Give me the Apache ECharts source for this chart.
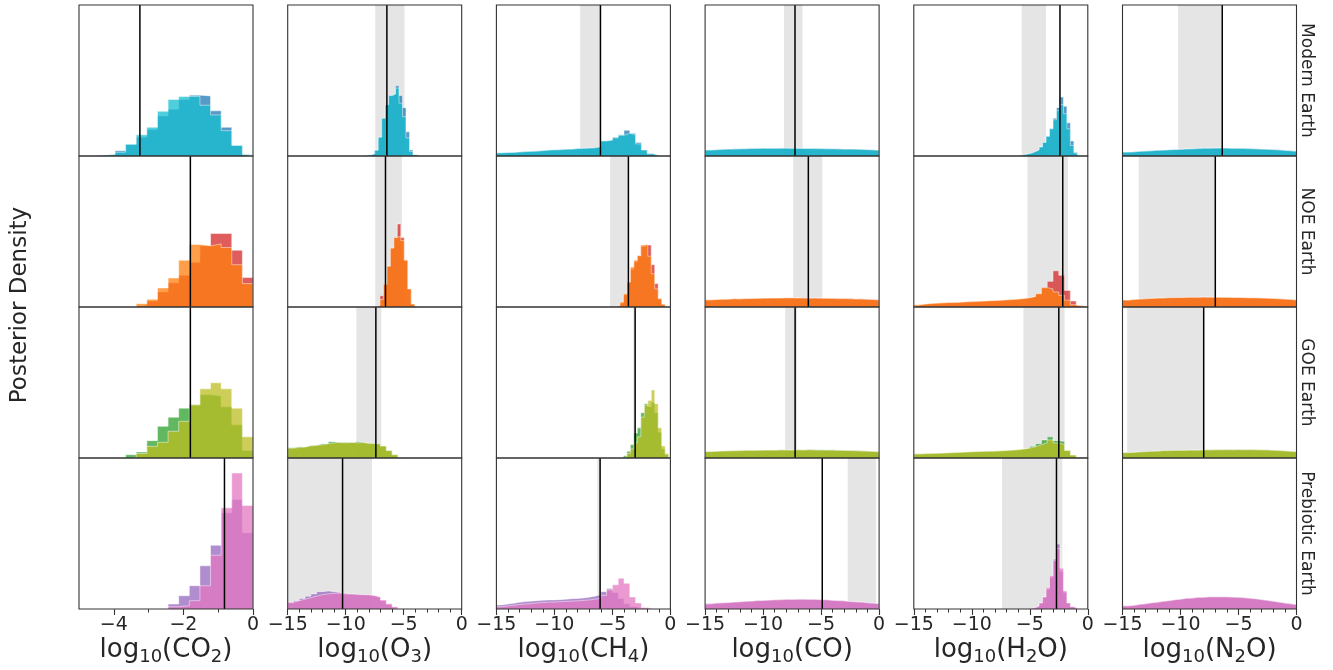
<!DOCTYPE html>
<html><head><meta charset="utf-8">
<script src="https://cdn.jsdelivr.net/npm/echarts@6/dist/echarts.min.js"></script>
<style>html,body{margin:0;padding:0;background:#fff}#c{width:1333px;height:670px}</style>
</head><body><div id="c"></div><script>
const FONT = 'DejaVu Sans';
const rowNames = ['Modern Earth', 'NOE Earth', 'GOE Earth', 'Prebiotic Earth'];
const xTitles = ['{m|log}{s|10}{m|(CO}{s|2}{m|)}', '{m|log}{s|10}{m|(O}{s|3}{m|)}', '{m|log}{s|10}{m|(CH}{s|4}{m|)}',
  '{m|log}{s|10}{m|(CO)}', '{m|log}{s|10}{m|(H}{s|2}{m|O)}', '{m|log}{s|10}{m|(N}{s|2}{m|O)}'];
const xMins = [-5, -15, -15, -15, -15, -15];
const co2Ticks = [-4, -2, 0];
const co2MinorTicks = [-3, -1];
const rowColors = [['#1f77b4', '#17becf'], ['#d62728', '#ff7f0e'], ['#2ca02c', '#bcbd22'], ['#9467bd', '#e377c2']];

// true values (black lines), rows x columns
const truthValues = [
  [-3.25, -6.45, -6.03, -7.25, -2.4, -6.4],
  [-1.8, -6.57, -3.62, -6.1, -2.16, -7.0],
  [-1.8, -7.4, -3.04, -7.24, -2.5, -8.0],
  [-0.82, -10.27, -6.06, -4.9, -2.7, null]
];
// grey bands [lo, hi]
const bandRanges = [
  [null, [-7.45, -4.93], [-7.78, -6.05], [-8.2, -6.6], [-5.7, -3.6], [-10.2, -6.4]],
  [null, [-7.45, -5.16], [-5.2, -3.64], [-7.4, -4.9], [-5.2, -1.7], [-13.6, -7.0]],
  [null, [-9.08, -6.93], [-3.2, -3.04], [-8.1, -7.07], [-5.55, -2.0], [-14.6, -8.0]],
  [null, [-15, -7.74], [-6.3, -6.06], [-2.7, -0.26], [-7.4, -2.2], null]
];

// ---- histograms: x0 = first bin edge, w = bin width, h = heights (% of panel height)
// Modern Earth
const mod_co2_a = {x0: -4.575, w: 0.305, h: [0.5, 1, 3.5, 7.7, 12.5, 17.5, 26.5, 31, 37.4, 40.3, 39.8, 29.9, 19, 7, 1]};
const mod_co2_b = {x0: -4.575, w: 0.305, h: [0.5, 1, 2.5, 7.7, 14, 19, 29.6, 37.4, 39.4, 39.5, 33.6, 27.2, 16.8, 7, 1]};
const mod_o3_a = {x0: -8.4, w: 0.3, h: [0.3, 0.7, 1.5, 3.8, 12.5, 25, 34, 40, 41, 46.5, 40, 32, 16, 4, 0.8, 0.2]};
const mod_o3_b = {x0: -8.4, w: 0.3, h: [0.3, 0.7, 1.5, 3.8, 12.5, 25, 34, 40, 41, 45, 35, 26, 12, 3, 0.7, 0.2]};
const mod_ch4_a = {x0: -15, w: 0.5, h: [2, 2.2, 2.4, 2.6, 2.8, 3, 3.3, 3.6, 3.8, 4, 4.2, 4.4, 4.6, 4.8, 5, 5.2, 5.5, 6, 10, 10.4, 12.5, 14, 17, 15, 9, 4, 1.5, 0.4]};
const mod_ch4_b = {x0: -15, w: 0.5, h: [2.1, 2.3, 2.3, 2.7, 2.9, 3.1, 3.2, 3.5, 3.9, 4.1, 4.1, 4.5, 4.5, 4.9, 5.1, 5.3, 5.4, 6.2, 10, 10.5, 12, 13.7, 15, 14, 8, 4, 1.5, 0.4]};
const mod_co_a = {x0: -15, w: 0.5, h: [3.8, 4.2, 4.5, 4.4, 4.8, 4.6, 5, 4.9, 5.1, 5, 5.2, 5, 5.3, 5.1, 5, 5.2, 5, 4.9, 5.1, 4.8, 4.9, 4.7, 4.8, 4.6, 4.5, 4.6, 4.4, 4.2, 4.1, 3.8]};
const mod_co_b = {x0: -15, w: 0.5, h: [4, 4.1, 4.3, 4.6, 4.5, 4.8, 4.7, 5, 4.9, 5.2, 5, 5.1, 5, 5.2, 5.1, 5, 4.9, 5, 4.8, 4.9, 4.7, 4.8, 4.6, 4.5, 4.6, 4.4, 4.3, 4.2, 4, 3.8]};
const mod_h2o_a = {x0: -6.0, w: 0.3, h: [0.5, 1, 1.5, 2, 3, 4, 6, 9, 13, 18, 25, 32, 39, 33, 22, 10, 2.5, 0.5]};
const mod_h2o_b = {x0: -6.0, w: 0.3, h: [0.5, 1, 1.5, 2, 3, 4, 6, 9, 13, 18, 24, 30, 34, 28, 18, 7, 2, 0.5]};
const mod_n2o_a = {x0: -15, w: 0.5, h: [2.5, 2.8, 3, 3.2, 3.5, 3.7, 3.9, 4, 4.2, 4.4, 4.6, 4.8, 5, 5.1, 5.2, 5.3, 5.2, 5.3, 5.1, 5, 5.1, 4.9, 4.8, 4.6, 4.5, 4.3, 4.1, 3.8, 3.5, 3.2]};
const mod_n2o_b = {x0: -15, w: 0.5, h: [2.6, 2.7, 3.1, 3.3, 3.4, 3.8, 3.8, 4.1, 4.3, 4.3, 4.7, 4.7, 4.9, 5.2, 5.1, 5.2, 5.3, 5.2, 5, 5.1, 4.9, 4.8, 4.7, 4.5, 4.4, 4.2, 4, 3.7, 3.4, 3.1]};
// NOE Earth
const noe_co2_a = {x0: -4.575, w: 0.305, h: [0, 0, 0, 0, 1.1, 4, 10, 16, 21, 29.6, 40.5, 48.7, 48.7, 37.6, 19.5]};
const noe_co2_b = {x0: -4.575, w: 0.305, h: [0, 0, 0, 0, 2.2, 5.1, 12.6, 19.2, 31, 41.4, 40.5, 41.8, 39.4, 28, 15.5]};
const noe_o3_a = {x0: -7.35, w: 0.3, h: [1, 7.5, 15, 27, 39, 46, 55, 46, 31, 12, 2, 0.5]};
const noe_o3_b = {x0: -7.35, w: 0.3, h: [1, 5, 15, 27, 39, 46, 47, 44, 31, 12, 2, 0.5]};
const noe_ch4_a = {x0: -4.65, w: 0.3, h: [0.5, 2.5, 8, 16, 25, 30, 34, 40, 41, 41, 28, 15.5, 5.5, 1.8]};
const noe_ch4_b = {x0: -4.65, w: 0.3, h: [1, 3.3, 8.8, 16.6, 26.5, 31, 34, 41, 41.5, 33.6, 22, 12, 5.5, 1.8]};
const noe_co_a = {x0: -15, w: 0.5, h: [4.5, 4.8, 5, 5.2, 5.4, 5.2, 5.6, 5.5, 5.8, 5.6, 6, 5.8, 6, 6.2, 6, 5.9, 6.1, 6, 5.8, 6, 5.7, 5.8, 5.6, 5.5, 5.6, 5.3, 5.4, 5.1, 5, 4.8]};
const noe_co_b = {x0: -15, w: 0.5, h: [4.8, 5, 5.2, 5.1, 5.5, 5.4, 5.5, 5.7, 5.6, 5.9, 5.8, 6, 5.9, 6, 6.1, 6, 5.9, 5.8, 6, 5.7, 5.8, 5.6, 5.5, 5.6, 5.4, 5.3, 5.2, 5.1, 4.9, 4.7]};
const noe_h2o_a = {x0: -15, w: 0.5, h: [1.2, 1.8, 2.2, 2.4, 2.6, 2.8, 2.9, 3, 3.3, 3.4, 3.6, 3.8, 4, 4.1, 4.3, 4.6, 4.8, 5, 5.4, 6, 6.8, 8.5, 13, 17, 24, 21, 11, 4, 1, 0]};
const noe_h2o_b = {x0: -15, w: 0.5, h: [1.5, 2, 2.4, 2.6, 2.8, 3, 3, 3.2, 3.5, 3.6, 3.8, 4, 4.2, 4.3, 4.5, 4.8, 5, 5.3, 5.7, 6.2, 7, 9, 12.8, 12, 10, 7.7, 4.5, 1.5, 0.3, 0]};
const noe_n2o_a = {x0: -15, w: 0.5, h: [4.5, 5, 5.2, 5.5, 5.6, 5.8, 6, 6.1, 6.3, 6.2, 6.4, 6.5, 6.3, 6.6, 6.4, 6.5, 6.3, 6.4, 6.2, 6.3, 6.1, 6, 6.1, 5.9, 5.8, 5.7, 5.5, 5.3, 5, 4.7]};
const noe_n2o_b = {x0: -15, w: 0.5, h: [4.6, 4.9, 5.3, 5.4, 5.7, 5.9, 5.9, 6.2, 6.2, 6.3, 6.3, 6.4, 6.4, 6.5, 6.5, 6.4, 6.4, 6.3, 6.3, 6.2, 6.2, 6.1, 6, 5.9, 5.8, 5.6, 5.4, 5.2, 5, 4.6]};
// GOE Earth
const goe_co2_a = {x0: -4.575, w: 0.305, h: [0, 0, 0, 2.2, 4, 11.5, 21, 27, 33, 35.2, 42, 41, 34, 22, 5]};
const goe_co2_b = {x0: -4.575, w: 0.305, h: [0, 0, 0, 0, 3, 7.7, 10.4, 17.7, 24.3, 35.2, 45.8, 49.8, 45.8, 33, 14]};
const goe_o3_a = {x0: -15, w: 0.5, h: [6.8, 7.5, 7.2, 8.3, 8.5, 9.5, 9.3, 10.8, 10.2, 10.5, 10, 10.8, 10.5, 9.6, 9.8, 9.2, 7.8, 4.8, 2.1, 0.4]};
const goe_o3_b = {x0: -15, w: 0.5, h: [6.5, 7, 7.3, 8, 8.3, 8.8, 9.5, 10, 10.3, 10, 10.5, 10, 10.2, 9.8, 9.5, 9.5, 8, 5, 2.2, 0.4]};
const goe_ch4_a = {x0: -4.05, w: 0.3, h: [1.5, 4.4, 9, 16.5, 20, 30, 36, 34, 37, 30, 17, 6, 2, 0.3]};
const goe_ch4_b = {x0: -4.05, w: 0.3, h: [1, 3, 6, 10, 14, 27, 35, 38, 45, 36, 20, 8, 3, 0.5]};
const goe_co_a = {x0: -15, w: 0.5, h: [4.2, 4.5, 4.6, 4.8, 4.7, 5, 4.9, 5.2, 5, 5.3, 5.1, 5.2, 5.4, 5.2, 5.3, 5.5, 5.3, 5.6, 5.4, 5.5, 5.3, 5.4, 5.2, 5.1, 5, 4.9, 4.8, 4.6, 4.4, 4.2]};
const goe_co_b = {x0: -15, w: 0.5, h: [4.3, 4.4, 4.7, 4.6, 4.9, 4.8, 5.1, 5, 5.2, 5.1, 5.3, 5.2, 5.3, 5.4, 5.2, 5.4, 5.3, 5.4, 5.3, 5.2, 5.3, 5.1, 5.1, 5, 4.9, 4.8, 4.6, 4.5, 4.3, 4.1]};
const goe_h2o_a = {x0: -15, w: 0.5, h: [2.5, 2.8, 3, 3, 3.2, 3.3, 3.5, 3.6, 3.8, 4, 4.2, 4.3, 4.4, 4.5, 4.6, 4.8, 5, 5.3, 5.8, 6.4, 7.8, 9.5, 12, 14, 11.5, 11, 5, 1.8, 0.4, 0]};
const goe_h2o_b = {x0: -15, w: 0.5, h: [2.8, 3, 3, 3.2, 3.3, 3.5, 3.6, 3.8, 4, 4.2, 4.3, 4.4, 4.5, 4.6, 4.8, 5, 5.3, 5.6, 6, 6.6, 7.5, 8.8, 10, 12, 10, 9, 5, 2, 0.5, 0]};
const goe_n2o_a = {x0: -15, w: 0.5, h: [3.5, 3.8, 4, 4.3, 4.4, 4.6, 4.8, 5, 5.1, 5, 5.2, 5.3, 5.1, 5.4, 5.3, 5.5, 5.4, 5.6, 5.5, 5.6, 5.4, 5.6, 5.5, 5.3, 5.4, 5.2, 5, 4.8, 4.5, 4.2]};
const goe_n2o_b = {x0: -15, w: 0.5, h: [3.6, 3.7, 4.1, 4.2, 4.5, 4.5, 4.9, 4.9, 5, 5.1, 5.1, 5.2, 5.2, 5.3, 5.4, 5.4, 5.5, 5.5, 5.4, 5.5, 5.5, 5.5, 5.4, 5.4, 5.3, 5.1, 4.9, 4.7, 4.4, 4.1]};
// Prebiotic Earth
const pre_co2_a = {x0: -4.575, w: 0.305, h: [0, 0, 0, 0, 0, 0, 0, 3.3, 8.8, 15.4, 28.6, 42.2, 63.7, 72.5, 50.5]};
const pre_co2_b = {x0: -4.575, w: 0.305, h: [0, 0, 0, 0, 0, 0, 0, 1.5, 2.2, 5.5, 15.4, 35.6, 67, 90, 68.6]};
const pre_o3_a = {x0: -15, w: 0.5, h: [4, 5.5, 7, 8.5, 10, 11.5, 12, 11.5, 11, 10.5, 10, 9.5, 9.5, 9.2, 8.5, 7.5, 5.5, 3, 1.2]};
const pre_o3_b = {x0: -15, w: 0.5, h: [4.5, 5.5, 6.5, 7.5, 8.5, 9.5, 10, 10.5, 10.5, 10, 10, 9.8, 9.5, 9.5, 9, 8, 6, 3.5, 1.5]};
const pre_ch4_a = {x0: -15, w: 0.5, h: [2.7, 3.3, 3.8, 4.4, 4.9, 5.2, 5.5, 5.8, 6, 6, 6.2, 6.5, 6.8, 7, 7.3, 7.8, 8.5, 9.5, 11.5, 13.5, 11, 7, 3.5, 1.5, 0.5]};
const pre_ch4_b = {x0: -15, w: 0.5, h: [1.5, 2, 2.5, 3, 3.3, 3.6, 4, 4.3, 4.5, 4.6, 4.8, 5, 5.2, 5.4, 5.7, 6, 6.5, 7.2, 9, 12.7, 16, 20.4, 17, 8, 4, 1, 0.3]};
const pre_co_a = {x0: -15, w: 0.5, h: [3.5, 3.8, 4, 4.3, 4.5, 4.8, 5, 5.3, 5.5, 5.7, 5.9, 6, 6.2, 6.3, 6.4, 6.5, 6.4, 6.5, 6.3, 6.2, 6, 5.8, 5.6, 5.3, 5, 4.8, 4.5, 4.2, 3.9, 3.5]};
const pre_co_b = {x0: -15, w: 0.5, h: [3.4, 3.9, 4.1, 4.2, 4.6, 4.7, 5.1, 5.2, 5.6, 5.6, 5.8, 6.1, 6.1, 6.4, 6.3, 6.4, 6.5, 6.3, 6.4, 6.1, 6.1, 5.7, 5.5, 5.4, 4.9, 4.7, 4.6, 4.1, 3.8, 3.4]};
const pre_h2o_a = {x0: -5.1, w: 0.3, h: [0.5, 1, 2, 4, 8, 13, 21, 33, 43, 25, 11, 4, 1.5, 0.5]};
const pre_h2o_b = {x0: -5.1, w: 0.3, h: [0.5, 1, 2, 4, 8, 14, 22, 32, 40, 27, 12, 4, 1.5, 0.5]};
const pre_n2o_a = {x0: -15, w: 0.5, h: [2, 2.5, 3, 3.5, 4, 4.5, 5, 5.5, 6, 6.5, 7, 7.3, 7.6, 7.8, 8, 8.1, 8, 8.1, 7.9, 7.8, 7.5, 7.2, 6.8, 6.3, 5.8, 5.2, 4.6, 4, 3.5, 3]};
const pre_n2o_b = {x0: -15, w: 0.5, h: [2.1, 2.4, 3.1, 3.4, 4.1, 4.4, 5.1, 5.4, 6.1, 6.4, 7.1, 7.2, 7.7, 7.7, 8.1, 8, 8.1, 8, 7.8, 7.7, 7.4, 7.1, 6.7, 6.2, 5.7, 5.1, 4.5, 3.9, 3.4, 2.9]};

const hists = [
  [[mod_co2_a, mod_co2_b], [mod_o3_a, mod_o3_b], [mod_ch4_a, mod_ch4_b], [mod_co_a, mod_co_b], [mod_h2o_a, mod_h2o_b], [mod_n2o_a, mod_n2o_b]],
  [[noe_co2_a, noe_co2_b], [noe_o3_a, noe_o3_b], [noe_ch4_a, noe_ch4_b], [noe_co_a, noe_co_b], [noe_h2o_a, noe_h2o_b], [noe_n2o_a, noe_n2o_b]],
  [[goe_co2_a, goe_co2_b], [goe_o3_a, goe_o3_b], [goe_ch4_a, goe_ch4_b], [goe_co_a, goe_co_b], [goe_h2o_a, goe_h2o_b], [goe_n2o_a, goe_n2o_b]],
  [[pre_co2_a, pre_co2_b], [pre_o3_a, pre_o3_b], [pre_ch4_a, pre_ch4_b], [pre_co_a, pre_co_b], [pre_h2o_a, pre_h2o_b], [pre_n2o_a, pre_n2o_b]]
];

// ---- layout
const PANEL_W = 174, PANEL_H = 151;
const COL_LEFT0 = 79, COL_STEP = 208.7, ROW_TOP0 = 5;
const YMAX = 100;

function stepData(hd) {
  const pts = [[hd.x0, 0]];
  for (let i = 0; i < hd.h.length; i++) pts.push([+(hd.x0 + i * hd.w).toFixed(4), hd.h[i]]);
  pts.push([+(hd.x0 + hd.h.length * hd.w).toFixed(4), 0]);
  return pts;
}
const minusFmt = v => (v < 0 ? '\u2212' + Math.abs(v) : String(v));

const grids = [], xAxes = [], yAxes = [], series = [];
const extraX = [];
for (let r = 0; r < 4; r++) {
  for (let c = 0; c < 6; c++) {
    const g = r * 6 + c;
    const xmin = xMins[c];
    grids.push({left: COL_LEFT0 + c * COL_STEP, top: ROW_TOP0 + r * PANEL_H, width: PANEL_W, height: PANEL_H,
      show: false, containLabel: false, outerBoundsMode: 'none'});
    const bottom = r === 3;
    const xa = {gridIndex: g, type: 'value', min: xmin, max: 0, interval: c === 0 ? 1 : 5,
      show: bottom, position: 'bottom', splitLine: {show: false}, axisLine: {show: false},
      axisTick: {show: true, length: 6, lineStyle: {color: '#333', width: 1.1}},
      minorTick: {show: c !== 0, splitNumber: 5, length: 3.5, lineStyle: {color: '#333', width: 1}},
      axisLabel: {fontSize: 19, color: '#262626', fontFamily: FONT, margin: 7, formatter: minusFmt},
      name: xTitles[c], nameLocation: 'middle', nameGap: 25,
      nameTextStyle: {color: '#262626', fontFamily: FONT, rich: {
        m: {fontSize: 26, lineHeight: 32, fontFamily: FONT, color: '#262626'},
        s: {fontSize: 18, lineHeight: 16, verticalAlign: 'bottom', fontFamily: FONT, color: '#262626'}}}
    };
    if (c === 0) {
      xa.axisTick.customValues = co2Ticks;
      xa.axisLabel.customValues = co2Ticks;
      if (bottom) extraX.push({g, xmin});
    }
    xAxes.push(xa);
    yAxes.push({gridIndex: g, type: 'value', min: 0, max: YMAX, show: false});

    const band = bandRanges[r][c];
    if (band) {
      series.push({type: 'custom', xAxisIndex: g, yAxisIndex: g, silent: true, z: 1,
        renderItem: (p, api) => {
          const a = api.coord([api.value(0), YMAX]);
          const b = api.coord([api.value(1), 0]);
          return {type: 'rect', shape: {x: a[0], y: a[1], width: b[0] - a[0], height: b[1] - a[1]}, style: {fill: '#e5e5e5'}};
        },
        data: [band]});
    }
    const [hd0, hd1] = hists[r][c];
    [hd0, hd1].forEach((hd, k) => {
      series.push({type: 'line', xAxisIndex: g, yAxisIndex: g, step: 'end', symbol: 'none', silent: true,
        z: 2 + k * 0.1, clip: true,
        lineStyle: {color: 'rgba(255,255,255,0.6)', width: 0.8},
        areaStyle: {color: rowColors[r][k], opacity: 0.75},
        data: stepData(hd)});
    });
    const tv = truthValues[r][c];
    if (tv !== null) {
      series.push({type: 'custom', xAxisIndex: g, yAxisIndex: g, silent: true, z: 3,
        renderItem: (p, api) => {
          const a = api.coord([api.value(0), 0]);
          const b = api.coord([api.value(0), YMAX]);
          return {type: 'line', shape: {x1: a[0], y1: a[1], x2: b[0], y2: b[1]}, style: {stroke: '#000', lineWidth: 1.5}};
        },
        data: [[tv, 0]]});
    }
    series.push({type: 'custom', xAxisIndex: g, yAxisIndex: g, silent: true, z: 4,
      renderItem: (p, api) => {
        const a = api.coord([api.value(0), YMAX]);
        const b = api.coord([api.value(1), 0]);
        return {type: 'rect', shape: {x: a[0], y: a[1], width: b[0] - a[0], height: b[1] - a[1]},
          style: {fill: 'none', stroke: '#333', lineWidth: 1.1}};
      },
      data: [[xmin, 0]]});
  }
}
extraX.forEach(e => {
  xAxes.push({gridIndex: e.g, type: 'value', min: e.xmin, max: 0, interval: 1, position: 'bottom',
    splitLine: {show: false}, axisLine: {show: false}, axisLabel: {show: false},
    axisTick: {show: true, length: 3.5, customValues: co2MinorTicks, lineStyle: {color: '#333', width: 1}}});
});

const graphics = [];
rowNames.forEach((name, r) => {
  graphics.push({type: 'text', x: 1306, y: ROW_TOP0 + r * PANEL_H + PANEL_H / 2, rotation: -Math.PI / 2,
    style: {text: name, fontSize: 17, fontFamily: FONT, fill: '#262626', align: 'center', verticalAlign: 'middle'}});
});
graphics.push({type: 'text', x: 20, y: 305, rotation: Math.PI / 2,
  style: {text: 'Posterior Density', fontSize: 23, fontFamily: FONT, fill: '#262626', align: 'center', verticalAlign: 'middle'}});

const chart = echarts.init(document.getElementById('c'), null, {renderer: 'canvas'});
chart.setOption({animation: false, backgroundColor: '#fff', grid: grids, xAxis: xAxes, yAxis: yAxes, series, graphic: graphics});
</script></body></html>
